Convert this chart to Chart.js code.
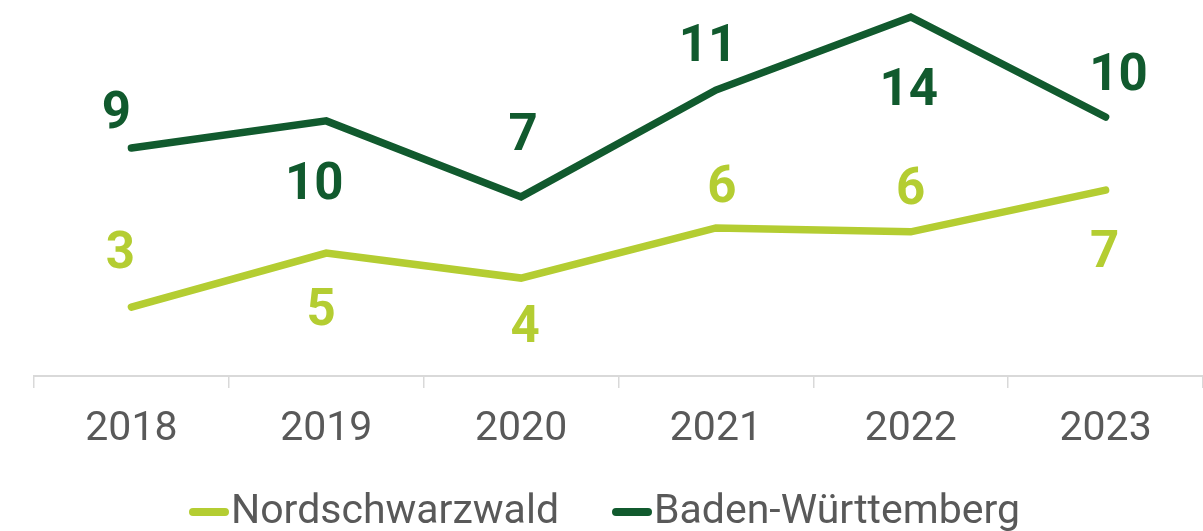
<!DOCTYPE html>
<html>
<head>
<meta charset="utf-8">
<script src="https://cdn.jsdelivr.net/npm/chart.js@4/dist/chart.umd.min.js"></script>
<style>
  html, body { margin: 0; padding: 0; background: #fff; }
  #wrap { width: 1203px; height: 531px; position: relative; }
</style>
</head>
<body>
<div id="wrap"><canvas id="c"></canvas></div>
<script>
const years = ['2018', '2019', '2020', '2021', '2022', '2023'];
const nordschwarzwald = [2.64, 4.71, 3.75, 5.67, 5.52, 7.12];
const badenWuerttemberg = [8.73, 9.77, 6.86, 10.95, 13.75, 9.92];

// label offset from its point [dx, dy]
const nsLabelPos = [[-11, -55], [-5, 56], [4, 48], [6, -42], [0, -44], [-1, 61]];
const bwLabelPos = [[-15, -36], [-12, 62], [2, -63], [-8, -45], [-2, 72], [13, -43]];

const lightGreen = '#b4cd32';
const darkGreen = '#115a2e';
const greyText = '#595959';

const valueLabels = {
    id: 'valueLabels',
    afterDatasetsDraw(chart) {
        const ctx = chart.ctx;
        ctx.save();
        ctx.font = 'bold 51px Roboto';
        ctx.textAlign = 'center';
        ctx.textBaseline = 'middle';
        chart.data.datasets.forEach((ds, i) => {
            const meta = chart.getDatasetMeta(i);
            meta.data.forEach((pt, j) => {
                const off = ds.labelPos[j];
                ctx.fillStyle = ds.borderColor;
                ctx.fillText(String(Math.round(ds.data[j])), pt.x + off[0], pt.y + off[1] + 3);
            });
        });
        ctx.restore();
    }
};

const lineLegend = {
    id: 'lineLegend',
    afterDraw(chart) {
        const ctx = chart.ctx;
        ctx.save();
        ctx.font = '41px Roboto';
        const items = chart.data.datasets;
        const markW = 40, gap = 2, itemGap = 53;
        let total = 0;
        items.forEach((ds, i) => {
            total += markW + gap + ctx.measureText(ds.label).width;
            if (i > 0) total += itemGap;
        });
        let x = (chart.width - total) / 2 + 3;
        const y = 512;
        items.forEach(ds => {
            ctx.strokeStyle = ds.borderColor;
            ctx.lineWidth = 8;
            ctx.lineCap = 'round';
            ctx.beginPath();
            ctx.moveTo(x + 4, y);
            ctx.lineTo(x + markW - 4, y);
            ctx.stroke();
            x += markW + gap;
            ctx.fillStyle = greyText;
            ctx.textBaseline = 'alphabetic';
            ctx.fillText(ds.label, x, 523);
            x += ctx.measureText(ds.label).width + itemGap;
        });
        ctx.restore();
    }
};

new Chart(document.getElementById('c'), {
    type: 'line',
    data: {
        labels: years,
        datasets: [
            {
                label: 'Nordschwarzwald',
                data: nordschwarzwald,
                labelPos: nsLabelPos,
                borderColor: lightGreen,
                borderWidth: 7.5,
                borderCapStyle: 'round',
                borderJoinStyle: 'miter',
                pointRadius: 0,
                tension: 0
            },
            {
                label: 'Baden-Württemberg',
                data: badenWuerttemberg,
                labelPos: bwLabelPos,
                borderColor: darkGreen,
                borderWidth: 7.5,
                borderCapStyle: 'round',
                borderJoinStyle: 'miter',
                pointRadius: 0,
                tension: 0
            }
        ]
    },
    plugins: [valueLabels, lineLegend],
    options: {
        responsive: true,
        maintainAspectRatio: false,
        animation: false,
        layout: { padding: { left: 34, right: 0, top: 0, bottom: 0 } },
        plugins: {
            legend: { display: false },
            tooltip: { enabled: false }
        },
        scales: {
            x: {
                offset: true,
                border: { color: '#d9d9d9', width: 2 },
                grid: {
                    offset: true,
                    drawOnChartArea: false,
                    tickLength: 12,
                    color: '#d9d9d9',
                    lineWidth: 1.5
                },
                ticks: {
                    color: greyText,
                    font: { family: 'Roboto', size: 41 },
                    padding: 17
                },
                afterFit(scale) { scale.height = 155; }
            },
            y: {
                display: false,
                min: 0,
                max: 14.4
            }
        }
    }
});
</script>
</body>
</html>
